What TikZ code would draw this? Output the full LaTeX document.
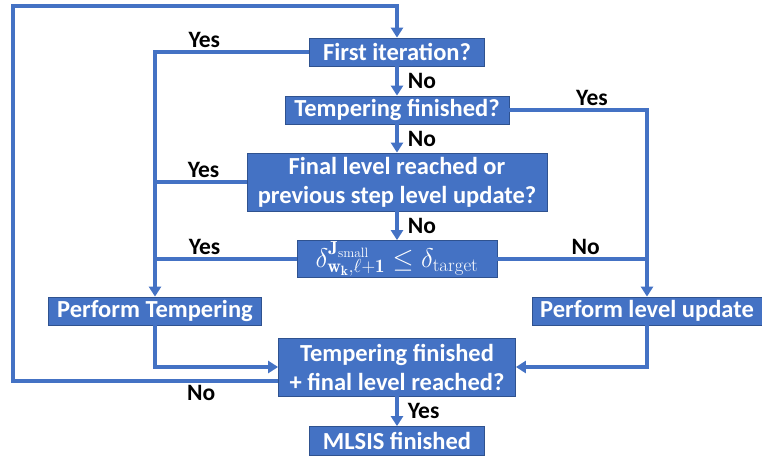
\RequirePackage{fix-cm}
\documentclass[tikz,border=0pt]{standalone}
\usepackage{fontspec}
\setsansfont{Carlito}
\usetikzlibrary{arrows.meta}
\definecolor{boxblue}{HTML}{4472C4}
\definecolor{boxedge}{HTML}{2F528F}

\begin{document}
\begin{tikzpicture}[x=1pt,y=-1pt,->,>={Triangle[width=12pt,length=10pt]},line width=3.8pt,draw=boxblue,
          node distance=58pt,
          step box/.style={rectangle,fill=boxblue,draw=boxedge,line width=0.8pt,text=white,inner sep=0pt,minimum height=28pt,align=center,font=\fontsize{24.5}{29}\selectfont\sffamily\bfseries},
          answer/.style={text=black,inner sep=2pt,font=\fontsize{23.5}{26}\selectfont\sffamily\bfseries}]

  \useasboundingbox (0,0) rectangle (762,456);

  \node[step box,minimum width=175pt] (first) at (397,52) {First iteration?};
  \node[step box,minimum width=224pt] (temp) [below of=first] {Tempering finished?};
  \node[step box,minimum width=300pt,minimum height=58pt,node distance=72pt] (final) [below of=temp] {Final level reached or\\previous step level update?};
  \node[step box,minimum width=200pt,minimum height=37pt,node distance=77pt,font=\fontsize{27}{30}\selectfont] (delta) [below of=final] {$\delta^{\mathbf{J}_{\mathrm{small}}}_{\mathbf{w}_{\mathbf{k}},\ell+\mathbf{1}}\leq\delta_{\mathrm{target}}$};
  \node[step box,minimum width=213pt] (pt) at (155,311) {Perform Tempering};
  \node[step box,minimum width=230pt] (plu) at (647,311) {Perform level update};
  \node[step box,minimum width=237pt,minimum height=58pt,node distance=108pt] (check) [below of=delta] {Tempering finished\\+ final level reached?};
  \node[step box,minimum width=175pt,minimum height=29pt,node distance=74pt] (mlsis) [below of=check] {MLSIS finished};
  \coordinate (top) at (13,6);

  \path[every node/.style={answer,right,xshift=7pt}]
  (first) edge node {No} (temp)
  (temp) edge node {No} (final)
  (final) edge node {No} (delta)
  (check) edge node {Yes} (mlsis);

  \draw (first.west) -| node[answer,pos=0.34,above] {Yes} (pt.north);
  \draw[-] (final.west) -- node[answer,pos=0.47,above] {Yes} (final.west -| pt.north);
  \draw[-] (delta.west) -- node[answer,pos=0.65,above] {Yes} (delta.west -| pt.north);
  \draw (temp.east) -| node[answer,pos=0.3,above] {Yes} (plu.north);
  \draw[-] (delta.east) -- node[answer,pos=0.59,above] {No} (delta.east -| plu.north);
  \draw (pt.south) |- (check.west);
  \draw (plu.south) |- (check.east);
  \draw ([yshift=-14pt]check.west) -| node[answer,pos=0.145,below] {No} (top) -| (first.north);
\end{tikzpicture}
\end{document}
